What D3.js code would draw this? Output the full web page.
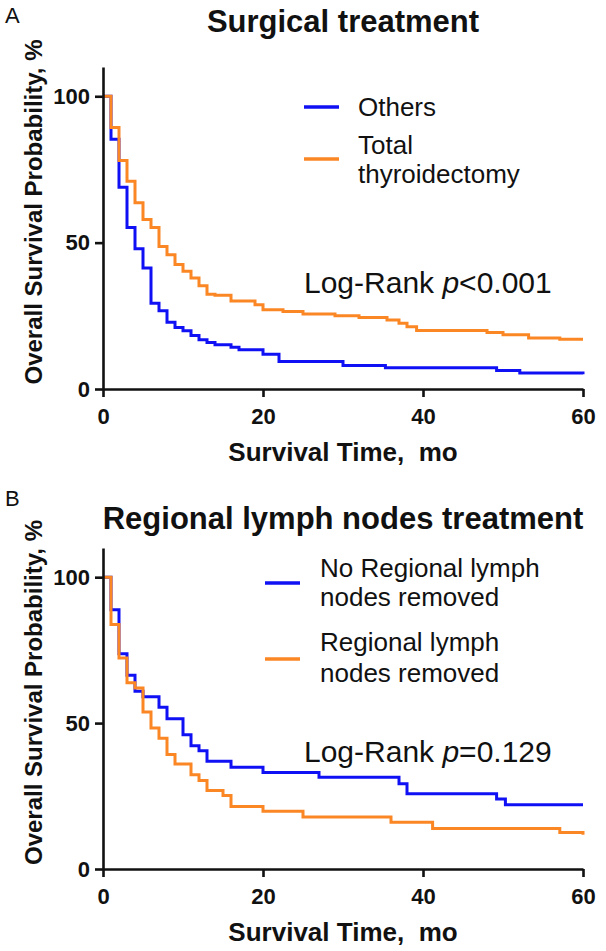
<!DOCTYPE html>
<html>
<head>
<meta charset="utf-8">
<script src="https://cdn.jsdelivr.net/npm/d3@7"></script>
<style>
  html, body { margin: 0; padding: 0; background: #fff; }
  svg text { font-family: "Liberation Sans", Arial, sans-serif; fill: #111; white-space: pre; }
</style>
</head>
<body>
<svg id="chart" width="606" height="951"></svg>
<script>
// ---- Data ----
const xTicks = [0, 20, 40, 60];
const yTicks = [0, 50, 100];

// Panel A: Surgical treatment
const aOthersTime = [0, 1, 2, 3, 4, 5, 6, 7, 8, 9, 10, 11, 12, 13, 14, 16, 17, 20, 22, 30, 35.3, 49.2, 52.1, 60];
const aOthersSurv = [100, 85.3, 68.9, 55.2, 47.9, 41.3, 29.3, 26.7, 22.8, 21.0, 19.9, 18.3, 16.8, 15.9, 15.1, 14.3, 13.4, 11.9, 9.4, 8.0, 7.3, 6.3, 5.5, 5.0];
const aTotalTime = [0, 1, 2, 3, 4, 5, 6, 7, 8, 9, 10, 11, 12, 13, 14, 16, 19, 20, 22.5, 25, 29, 32, 35.5, 37, 38, 39.2, 48, 50, 53.2, 57.1, 60];
const aTotalSurv = [100, 89.3, 78.1, 71.0, 63.6, 57.9, 55.2, 48.7, 45.9, 42.5, 40.2, 37.9, 35.3, 32.4, 32.0, 30.1, 28.8, 27.1, 26.5, 25.6, 25.0, 24.4, 23.6, 22.5, 21.3, 20.0, 19.3, 18.5, 17.4, 17.0, 17.0];

// Panel B: Regional lymph nodes treatment
const bNoTime = [0, 1, 2, 3, 4, 5, 7, 8, 10, 11, 12, 13, 16, 20, 27, 37, 38, 49.2, 50.3, 60];
const bNoSurv = [100, 88.8, 73.8, 66.4, 60.9, 59.0, 55.4, 51.5, 46.0, 42.2, 40.5, 36.9, 34.9, 33.1, 31.4, 29.2, 25.8, 24.0, 22.0, 22.0];
const bYesTime = [0, 1, 2, 3, 4, 5, 6, 7, 8, 9, 11, 12, 13, 15, 16, 20, 25, 36, 41.2, 57.1, 60];
const bYesSurv = [100, 83.8, 72.3, 63.8, 62.0, 53.8, 48.3, 44.8, 39.2, 36.0, 32.3, 30.3, 26.9, 25.2, 21.4, 19.8, 17.8, 16.0, 13.9, 12.5, 11.7];

const BLUE = "#1010f5";
const ORANGE = "#fb8624";

const panels = [
  {
    letter: "A", letterY: 23,
    title: "Surgical treatment", titleY: 32,
    top: 67, bottom: 389,
    series: [
      { name: ["Others"], t: aOthersTime, s: aOthersSurv, color: BLUE },
      { name: ["Total", "thyroidectomy"], t: aTotalTime, s: aTotalSurv, color: ORANGE }
    ],
    legend: { lineX: 304, textX: 358, items: [ {lineY: 107, textYs: [116]}, {lineY: 159, textYs: [154, 183]} ] },
    pText: ["Log-Rank ", "p", "<0.001"], pY: 293
  },
  {
    letter: "B", letterY: 506,
    title: "Regional lymph nodes treatment", titleY: 529,
    top: 548, bottom: 869,
    series: [
      { name: ["No Regional lymph", "nodes removed"], t: bNoTime, s: bNoSurv, color: BLUE },
      { name: ["Regional lymph", "nodes removed"], t: bYesTime, s: bYesSurv, color: ORANGE }
    ],
    legend: { lineX: 265, textX: 320, items: [ {lineY: 583, textYs: [577, 606]}, {lineY: 659, textYs: [651, 682]} ] },
    pText: ["Log-Rank ", "p", "=0.129"], pY: 762
  }
];

const svg = d3.select("#chart");
const left = 103, right = 583;

panels.forEach(p => {
  const g = svg.append("g");
  const x = d3.scaleLinear().domain([0, 60]).range([left, right]);
  const y = d3.scaleLinear().domain([0, 110]).range([p.bottom, p.top]);

  // letter
  g.append("text").attr("x", 5).attr("y", p.letterY)
    .attr("font-size", 22).text(p.letter);

  // title
  g.append("text").attr("x", 343).attr("y", p.titleY)
    .attr("text-anchor", "middle").attr("font-size", 31).attr("font-weight", "bold")
    .text(p.title);

  // curves
  const line = d3.line().x(d => x(d[0])).y(d => y(d[1])).curve(d3.curveStepAfter);
  p.series.forEach(s => {
    const pts = s.t.map((t, i) => [t, s.s[i]]);
    g.append("path").datum(pts).attr("d", line)
      .attr("fill", "none").attr("stroke", s.color).attr("stroke-width", 3)
      .attr("stroke-linejoin", "miter");
  });

  // axes
  const xAxis = d3.axisBottom(x).tickValues(xTicks).tickSize(8).tickSizeOuter(0).tickPadding(11);
  const yAxis = d3.axisLeft(y).tickValues(yTicks).tickSize(8).tickSizeOuter(0).tickPadding(5);
  const gx = g.append("g").attr("transform", `translate(0,${p.bottom})`).call(xAxis);
  const gy = g.append("g").attr("transform", `translate(${left},0)`).call(yAxis);
  [gx, gy].forEach(a => {
    a.selectAll("path, line").attr("stroke", "#111").attr("stroke-width", 2.6);
    a.selectAll("text").attr("font-size", 22).attr("font-weight", "bold")
      .attr("fill", "#111").style("font-family", '"Liberation Sans", Arial, sans-serif');
  });

  // axis titles
  g.append("text").attr("x", 343).attr("y", p.bottom + 72)
    .attr("text-anchor", "middle").attr("font-size", 26).attr("font-weight", "bold")
    .text("Survival Time,  mo");
  g.append("text")
    .attr("transform", `translate(42,${(p.top + p.bottom) / 2 - 16}) rotate(-90)`)
    .attr("text-anchor", "middle").attr("font-size", 24).attr("font-weight", "bold")
    .text("Overall Survival Probability, %");

  // legend
  p.series.forEach((s, i) => {
    const it = p.legend.items[i];
    g.append("line").attr("x1", p.legend.lineX).attr("x2", p.legend.lineX + 35)
      .attr("y1", it.lineY).attr("y2", it.lineY)
      .attr("stroke", s.color).attr("stroke-width", 3.5);
    s.name.forEach((nm, j) => {
      g.append("text").attr("x", p.legend.textX).attr("y", it.textYs[j])
        .attr("font-size", 26).text(nm);
    });
  });

  // log-rank text
  const pt = g.append("text").attr("x", 304).attr("y", p.pY).attr("font-size", 30);
  pt.append("tspan").text(p.pText[0]);
  pt.append("tspan").attr("font-style", "italic").text(p.pText[1]);
  pt.append("tspan").text(p.pText[2]);
});
</script>
</body>
</html>
